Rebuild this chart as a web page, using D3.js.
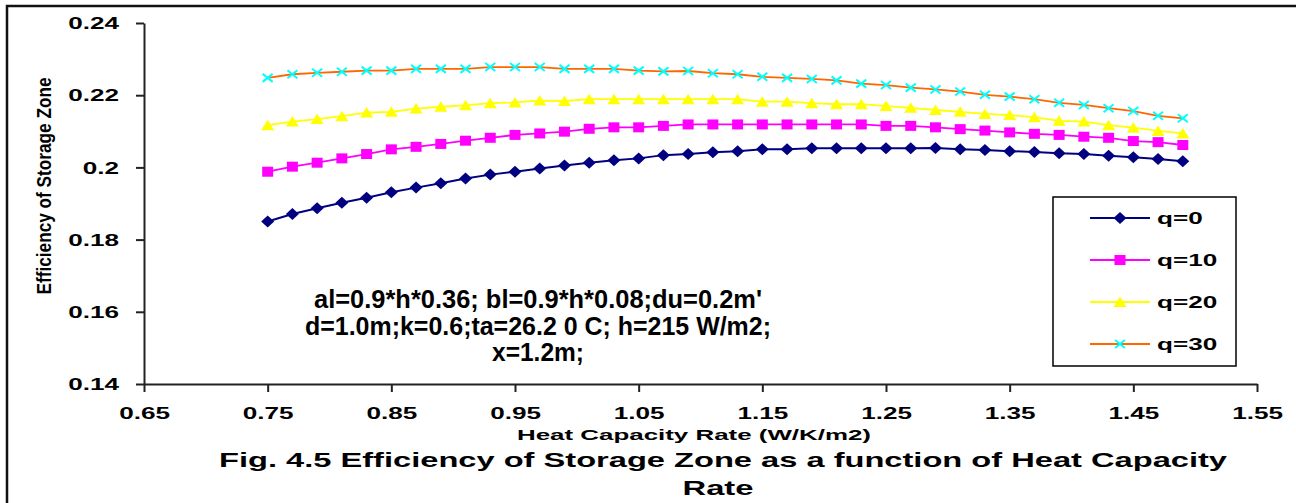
<!DOCTYPE html>
<html>
<head>
<meta charset="utf-8">
<script src="https://cdn.jsdelivr.net/npm/d3@7"></script>
<style>
  html, body { margin: 0; padding: 0; background: #fff; }
  text { font-family: "Liberation Sans", Arial, sans-serif; font-weight: bold; fill: #000; }
  .narrow { font-family: "Liberation Sans Narrow", "Arial Narrow", "Liberation Sans", sans-serif; }
  .axis .domain, .axis .tick line { stroke: #222; stroke-width: 2; }
</style>
</head>
<body>
<div id="chart"></div>
<script>
// Data
var X_VALUES = [0.75, 0.77, 0.79, 0.81, 0.83, 0.85, 0.87, 0.89, 0.91, 0.93,
  0.95, 0.97, 0.99, 1.01, 1.03, 1.05, 1.07, 1.09, 1.11, 1.13, 1.15, 1.17,
  1.19, 1.21, 1.23, 1.25, 1.27, 1.29, 1.31, 1.33, 1.35, 1.37, 1.39, 1.41,
  1.43, 1.45, 1.47, 1.49];

var Q0 = [0.1850, 0.1871, 0.1887, 0.1902, 0.1916, 0.1931, 0.1944, 0.1956, 0.1969, 0.1980,
  0.1988, 0.1997, 0.2005, 0.2013, 0.2020, 0.2025, 0.2034, 0.2037, 0.2042, 0.2045,
  0.2050, 0.2050, 0.2053, 0.2053, 0.2053, 0.2053, 0.2053, 0.2054, 0.2050, 0.2048,
  0.2045, 0.2043, 0.2039, 0.2037, 0.2032, 0.2028, 0.2023, 0.2017];
var Q10 = [0.1988, 0.2002, 0.2013, 0.2025, 0.2037, 0.2050, 0.2057, 0.2065, 0.2074, 0.2082,
  0.2090, 0.2094, 0.2099, 0.2107, 0.2111, 0.2111, 0.2115, 0.2119, 0.2119, 0.2119,
  0.2119, 0.2119, 0.2119, 0.2119, 0.2119, 0.2115, 0.2115, 0.2111, 0.2106, 0.2102,
  0.2097, 0.2093, 0.2090, 0.2085, 0.2082, 0.2073, 0.2070, 0.2062];
var Q20 = [0.2117, 0.2127, 0.2134, 0.2142, 0.2152, 0.2154, 0.2163, 0.2168, 0.2172, 0.2178,
  0.2180, 0.2185, 0.2184, 0.2189, 0.2189, 0.2189, 0.2189, 0.2189, 0.2189, 0.2189,
  0.2182, 0.2182, 0.2178, 0.2175, 0.2175, 0.2170, 0.2165, 0.2159, 0.2154, 0.2148,
  0.2145, 0.2139, 0.2129, 0.2127, 0.2117, 0.2110, 0.2101, 0.2094];
var Q30 = [0.2248, 0.2258, 0.2262, 0.2265, 0.2268, 0.2268, 0.2273, 0.2273, 0.2273, 0.2278,
  0.2278, 0.2278, 0.2273, 0.2273, 0.2273, 0.2268, 0.2266, 0.2267, 0.2261, 0.2258,
  0.2251, 0.2248, 0.2245, 0.2241, 0.2232, 0.2228, 0.2221, 0.2216, 0.2210, 0.2201,
  0.2196, 0.2189, 0.2179, 0.2173, 0.2164, 0.2156, 0.2143, 0.2136];

var SERIES_NAMES = ["q=0", "q=10", "q=20", "q=30"];
var X_TICKS = [0.65, 0.75, 0.85, 0.95, 1.05, 1.15, 1.25, 1.35, 1.45, 1.55];
var Y_TICKS = [0.14, 0.16, 0.18, 0.2, 0.22, 0.24];
var X_TICK_LABELS = ["0.65", "0.75", "0.85", "0.95", "1.05", "1.15", "1.25", "1.35", "1.45", "1.55"];
var Y_TICK_LABELS = ["0.14", "0.16", "0.18", "0.2", "0.22", "0.24"];

var NOTE_LINES = [
  "al=0.9*h*0.36; bl=0.9*h*0.08;du=0.2m'",
  "d=1.0m;k=0.6;ta=26.2 0 C; h=215 W/m2;",
  "x=1.2m;"
];

// styles per series
var STYLES = [
  { line: "#000080", fill: "#000080", marker: "diamond" },
  { line: "#ff00ff", fill: "#ff00ff", marker: "square" },
  { line: "#ffff00", fill: "#ffff00", marker: "triangle" },
  { line: "#ff6600", fill: "#00ffff", marker: "cross" }
];

var W = 1296, H = 503;
var STRETCH = 1.63;

// stretch (or squeeze) a text to a width, keeping its anchor
var fitText = function(sel, widthFn, anchor) {
  sel.each(function(d, i) {
    var w = this.getComputedTextLength();
    var L = typeof widthFn === "function" ? widthFn(w, i) : widthFn;
    var x0 = +(this.getAttribute("x") || 0);
    this.setAttribute("textLength", L);
    this.setAttribute("lengthAdjust", "spacingAndGlyphs");
    this.setAttribute("text-anchor", "start");
    if (anchor === "end") this.setAttribute("x", x0 - L);
    else if (anchor === "middle") this.setAttribute("x", x0 - L / 2);
  });
};

var markerPath = function(type) {
  var p = d3.path();
  if (type === "diamond") {
    p.moveTo(0, -6); p.lineTo(6.5, 0); p.lineTo(0, 6); p.lineTo(-6.5, 0); p.closePath();
  } else if (type === "square") {
    p.rect(-5.5, -5, 11, 10);
  } else if (type === "triangle") {
    p.moveTo(0, -5.5); p.lineTo(6.5, 5); p.lineTo(-6.5, 5); p.closePath();
  } else {
    p.moveTo(-5, -4); p.lineTo(5, 4); p.moveTo(-5, 4); p.lineTo(5, -4);
  }
  return p.toString();
};

var drawMarker = function(g, type, style) {
  var m = g.append("path").attr("d", markerPath(type));
  if (type === "cross") {
    m.attr("fill", "none").attr("stroke", style.fill).attr("stroke-width", 2);
  } else {
    m.attr("fill", style.fill).attr("stroke", "none");
  }
  return m;
};

var render = function() {
  var svg = d3.select("#chart").append("svg")
    .attr("width", W)
    .attr("height", H);

  // outer frame (top and left edges visible)
  svg.append("path")
    .attr("d", "M7," + H + "V6H" + W)
    .attr("fill", "none")
    .attr("stroke", "#111")
    .attr("stroke-width", 2.5);

  var xScale = d3.scaleLinear().domain([0.65, 1.55]).range([144, 1257]);
  var yScale = d3.scaleLinear().domain([0.14, 0.24]).range([384, 23]);

  // axes
  var xAxis = d3.axisBottom(xScale)
    .tickValues(X_TICKS)
    .tickSize(8)
    .tickSizeOuter(0)
    .tickFormat((d, i) => X_TICK_LABELS[i]);

  var yAxis = d3.axisLeft(yScale)
    .tickValues(Y_TICKS)
    .tickSize(8)
    .tickSizeOuter(0)
    .tickFormat((d, i) => Y_TICK_LABELS[i]);

  var gx = svg.append("g")
    .attr("class", "x axis")
    .attr("transform", "translate(0," + yScale(0.14) + ")")
    .call(xAxis);
  gx.selectAll("text")
    .attr("y", 35)
    .attr("dy", 0)
    .style("font-size", "16px")
    .attr("fill", "#000")
    .call(fitText, w => w * STRETCH, "middle");

  var gy = svg.append("g")
    .attr("class", "y axis")
    .attr("transform", "translate(" + xScale(0.65) + ",0)")
    .call(yAxis);
  gy.selectAll("text")
    .attr("x", -25)
    .attr("dy", "0.36em")
    .style("font-size", "16px")
    .attr("fill", "#000")
    .call(fitText, w => w * STRETCH, "end");

  // series
  var seriesData = [Q0, Q10, Q20, Q30];
  var line = d3.line()
    .x((d, i) => xScale(X_VALUES[i]))
    .y(d => yScale(d));

  seriesData.forEach(function(values, s) {
    var style = STYLES[s];
    var g = svg.append("g").attr("class", "series series-" + s);
    g.append("path")
      .datum(values)
      .attr("d", line)
      .attr("fill", "none")
      .attr("stroke", style.line)
      .attr("stroke-width", s === 0 ? 2 : 1.8);

    g.selectAll("g.pt")
      .data(values)
      .enter()
      .append("g")
      .attr("class", "pt")
      .attr("transform", (d, i) => "translate(" + xScale(X_VALUES[i]) + "," + yScale(d) + ")")
      .each(function() { drawMarker(d3.select(this), style.marker, style); });
  });

  // axis titles
  svg.append("text")
    .attr("class", "narrow")
    .attr("transform", "translate(51,186) rotate(-90)")
    .style("font-size", "20px")
    .text("Efficiency of Storage Zone")
    .call(fitText, 217, "middle");

  svg.append("text")
    .attr("x", 694)
    .attr("y", 440)
    .style("font-size", "15px")
    .text("Heat Capacity Rate (W/K/m2)")
    .call(fitText, 354, "middle");

  // figure caption
  svg.append("text")
    .attr("x", 723)
    .attr("y", 467)
    .style("font-size", "21px")
    .text("Fig. 4.5 Efficiency of Storage Zone as a function of Heat Capacity")
    .call(fitText, 1008, "middle");

  svg.append("text")
    .attr("x", 718)
    .attr("y", 495)
    .style("font-size", "21px")
    .text("Rate")
    .call(fitText, 71, "middle");

  // parameter note
  var noteWidths = [448, 466, 92];
  var noteY = [308, 335, 361];
  svg.append("g")
    .attr("class", "note")
    .selectAll("text")
    .data(NOTE_LINES)
    .enter()
    .append("text")
    .attr("class", "narrow")
    .attr("x", 538)
    .attr("y", (d, i) => noteY[i])
    .style("font-size", "25px")
    .text(d => d)
    .call(fitText, (w, i) => noteWidths[i], "middle");

  // legend
  var legend = svg.append("g").attr("class", "legend");
  legend.append("rect")
    .attr("x", 1053)
    .attr("y", 197)
    .attr("width", 183)
    .attr("height", 169)
    .attr("fill", "#fff")
    .attr("stroke", "#000")
    .attr("stroke-width", 1.5);

  var legendY = d3.scalePoint().domain(SERIES_NAMES).range([218, 344]);

  SERIES_NAMES.forEach(function(name, s) {
    var style = STYLES[s];
    var item = legend.append("g")
      .attr("transform", "translate(0," + legendY(name) + ")");
    item.append("line")
      .attr("x1", 1090)
      .attr("x2", 1150)
      .attr("stroke", style.line)
      .attr("stroke-width", s === 0 ? 2 : 1.8);
    var mg = item.append("g").attr("transform", "translate(1120,0)");
    drawMarker(mg, style.marker, style);
    item.append("text")
      .attr("x", 1157)
      .attr("y", 6)
      .style("font-size", "16px")
      .text(name)
      .call(fitText, w => w * STRETCH, "start");
  });
};

window.onload = render;
</script>
</body>
</html>
